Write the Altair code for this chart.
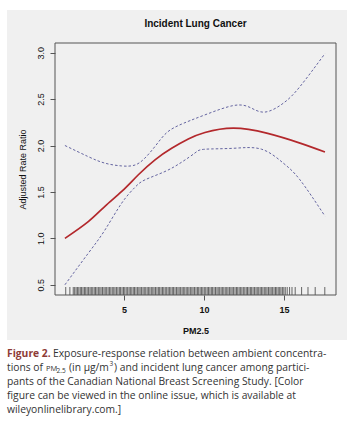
import altair as alt
import pandas as pd

# ---- data ----
fit_x = [1.31, 2.77, 3.81, 4.86, 5.9, 6.94, 7.98, 9.02, 10.06, 11.83, 13.92, 16.0, 17.56]
fit_y = [1.00, 1.18, 1.345, 1.505, 1.685, 1.846, 1.97, 2.07, 2.14, 2.187, 2.133, 2.026, 1.93]

up_x = [1.31, 2.77, 3.81, 4.86, 5.69, 6.31, 6.94, 7.56, 8.4, 10.06, 11.83, 12.875, 13.81, 14.96, 16.0, 17.56]
up_y = [2.00, 1.88, 1.81, 1.78, 1.79, 1.865, 1.99, 2.12, 2.215, 2.33, 2.43, 2.41, 2.36, 2.456, 2.635, 2.99]

lo_x = [1.31, 2.77, 3.81, 4.86, 5.69, 6.31, 7.56, 8.6, 9.44, 10.06, 11.83, 13.6, 14.96, 16.0, 17.56]
lo_y = [0.50, 0.84, 1.09, 1.38, 1.55, 1.63, 1.72, 1.82, 1.92, 1.96, 1.97, 1.96, 1.81, 1.63, 1.24]

rug = [1.36, 1.62, 1.83, 1.92, 2.01, 2.1, 2.18, 2.27, 2.35, 2.44, 2.53, 2.61, 2.7, 2.79, 2.88,
       2.96, 3.05, 3.14, 3.22, 3.31, 3.4, 3.49, 3.57, 3.66, 3.75, 3.83, 3.92, 4.01, 4.1, 4.18,
       4.27, 4.36, 4.44, 4.53, 4.62, 4.71, 4.79, 4.88, 4.97, 5.05, 5.14, 5.23, 5.32, 5.4, 5.49,
       5.58, 5.66, 5.75, 5.84, 5.93, 6.01, 6.1, 6.19, 6.27, 6.36, 6.45, 6.54, 6.62, 6.71, 6.8,
       6.88, 6.97, 7.06, 7.15, 7.23, 7.32, 7.41, 7.49, 7.58, 7.67, 7.76, 7.84, 7.93, 8.02, 8.1,
       8.19, 8.28, 8.37, 8.45, 8.54, 8.63, 8.71, 8.8, 8.89, 8.98, 9.06, 9.15, 9.24, 9.32, 9.41,
       9.5, 9.59, 9.67, 9.76, 9.85, 9.93, 10.02, 10.11, 10.2, 10.28, 10.37, 10.46, 10.54, 10.63,
       10.72, 10.81, 10.89, 10.98, 11.07, 11.15, 11.24, 11.33, 11.42, 11.5, 11.59, 11.68, 11.76,
       11.85, 11.94, 12.03, 12.11, 12.2, 12.29, 12.37, 12.46, 12.55, 12.64, 12.72, 12.81, 12.9,
       12.98, 13.07, 13.16, 13.25, 13.33, 13.42, 13.51, 13.59, 13.68, 13.77, 13.86, 13.94, 14.03,
       14.12, 14.2, 14.29, 14.38, 14.47, 14.55, 14.64, 14.73, 14.81, 14.9, 14.99, 15.08, 15.2,
       15.35, 15.5, 15.7, 16.1, 16.5, 16.95, 17.55]

x_ticks = [5, 10, 15]
y_ticks = [0.5, 1.0, 1.5, 2.0, 2.5, 3.0]

title_text = "Incident Lung Cancer"
x_title = "PM2.5"
y_title = "Adjusted Rate Ratio"

# caption fragments: text, x(px from left edge of page), baseline y(px), size
cap_text = ["Exposure-response relation between ambient concentra-",
            "tions of", "PM", "2.5", "(in \u03bcg/m", "3", ") and incident lung cancer among partici-",
            "pants of the Canadian National Breast Screening Study. [Color",
            "figure can be viewed in the online issue, which is available at",
            "wileyonlinelibrary.com.]"]
cap_x = [53, 7, 46, 56.5, 69, 109.5, 114, 7, 7, 7]
cap_y = [357, 371, 371, 373, 371, 366, 371, 385, 399, 413]
cap_size = [10.3, 10.3, 7.5, 6.5, 10.3, 6.5, 10.3, 10.3, 10.3, 10.3]
fig_label = "Figure 2."
fig_label_xy = (7, 357)

# ---- layout ----
W, H = 281, 252
PL, PT = 55, 43
FONT = "Liberation Sans"
CAP_FONT = "Open Sans"

xs = alt.Scale(domain=[0.69, 18.25], nice=False, zero=False)
ys = alt.Scale(domain=[0.39, 3.104], nice=False, zero=False)

fit = pd.DataFrame({"x": fit_x, "y": fit_y})
up = pd.DataFrame({"x": up_x, "y": up_y})
lo = pd.DataFrame({"x": lo_x, "y": lo_y})
rugdf = pd.DataFrame({"x": rug})
one = pd.DataFrame({"a": [0]})
cap = pd.DataFrame({"t": cap_text, "px": [v - PL for v in cap_x], "py": [v - PT for v in cap_y],
                    "s": cap_size})
figdf = pd.DataFrame({"t": [fig_label], "px": [fig_label_xy[0] - PL], "py": [fig_label_xy[1] - PT]})
titledf = pd.DataFrame({"t": [title_text], "px": [195.5 - PL], "py": [24 - PT]})

panel = alt.Chart(one).mark_rect(fill="#f0f0f0").encode(
    x=alt.value(7 - PL), x2=alt.value(347 - PL), y=alt.value(10 - PT), y2=alt.value(340 - PT))

frame = alt.Chart(one).mark_rect(fill="transparent", stroke="#555555", strokeWidth=1).encode(
    x=alt.value(0), x2=alt.value(W), y=alt.value(0), y2=alt.value(H))

x_axis = alt.Axis(values=x_ticks, title=x_title, domain=False, grid=False, tickColor="#555555",
                  tickSize=5, labelFont=FONT, labelFontSize=9, labelFontWeight="bold",
                  labelColor="#111111", labelPadding=5, titleFont=FONT, titleFontSize=9,
                  titleFontWeight="bold", titleColor="#111111", titleY=35,
                  titleBaseline="middle", zindex=1)
y_axis = alt.Axis(values=y_ticks, title=y_title, domain=False, grid=False, tickColor="#555555",
                  tickSize=5, labelFont=FONT, labelFontSize=9, labelColor="#111111",
                  labelAngle=270, labelAlign="center", labelBaseline="bottom", labelPadding=5,
                  format=".1f", titleFont=FONT, titleFontSize=9, titleFontWeight="normal",
                  titleColor="#111111", titleX=-33, titleY=H / 2, titleAngle=270,
                  titleAlign="center", titleBaseline="middle", zindex=1)

rugs = alt.Chart(rugdf).mark_rule(color="#555555", strokeWidth=0.9).encode(
    x=alt.X("x:Q", scale=xs, axis=x_axis),
    y=alt.value(H - 8), y2=alt.value(H))

upper = alt.Chart(up).mark_line(color="#6464a0", strokeWidth=1, strokeDash=[2.5, 2],
                                interpolate="natural").encode(
    x=alt.X("x:Q", scale=xs), y=alt.Y("y:Q", scale=ys, axis=y_axis))
lower = alt.Chart(lo).mark_line(color="#6464a0", strokeWidth=1, strokeDash=[2.5, 2],
                                interpolate="natural").encode(
    x=alt.X("x:Q", scale=xs), y=alt.Y("y:Q", scale=ys))
red = alt.Chart(fit).mark_line(color="#b3282c", strokeWidth=1.7, interpolate="natural").encode(
    x=alt.X("x:Q", scale=xs), y=alt.Y("y:Q", scale=ys))

caption = alt.Chart(cap).mark_text(align="left", baseline="alphabetic", font=CAP_FONT,
                                   color="#333333").encode(
    x=alt.X("px:Q", scale=None), y=alt.Y("py:Q", scale=None), text="t:N",
    size=alt.Size("s:Q", scale=None, legend=None))
figlab = alt.Chart(figdf).mark_text(align="left", baseline="alphabetic", font=CAP_FONT,
                                    fontWeight="bold", fontSize=10.3, color="#8e3b36").encode(
    x=alt.X("px:Q", scale=None), y=alt.Y("py:Q", scale=None), text="t:N")
title = alt.Chart(titledf).mark_text(align="center", baseline="middle", font=FONT,
                                     fontWeight="bold", fontSize=10, color="#111111").encode(
    x=alt.X("px:Q", scale=None), y=alt.Y("py:Q", scale=None), text="t:N")

chart = alt.layer(panel, rugs, upper, lower, red, frame, title, caption, figlab).properties(
    width=W, height=H,
    autosize=alt.AutoSizeParams(type="none"),
    padding={"left": PL, "top": PT, "right": 353 - PL - W, "bottom": 425 - PT - H},
    background="white",
).configure_view(stroke=None)

chart.save("out.html", embed_options={"renderer": "svg", "actions": False})
